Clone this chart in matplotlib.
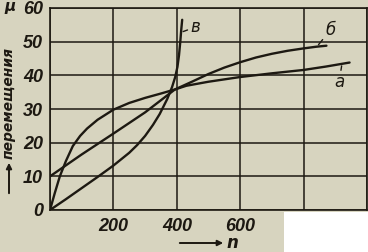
import matplotlib
matplotlib.use("Agg")
import matplotlib.pyplot as plt
from matplotlib import font_manager
from matplotlib.patches import Rectangle, FancyArrowPatch

# ---- data ----
n_a = [0, 100, 200, 300, 394, 430, 500, 600, 700, 800, 870, 945]
y_a = [10, 16.5, 22.7, 29.0, 35.8, 36.9, 38.1, 39.5, 40.6, 41.6, 42.6, 43.8]

n_b = [0, 15, 31, 50, 72, 95, 117, 150, 200, 250, 300, 350, 394, 450, 500, 550,
       600, 650, 700, 750, 800, 840, 872]
y_b = [0, 5, 10, 14.5, 19, 22, 24.2, 26.8, 29.8, 31.8, 33.3, 34.6, 35.8, 38.2,
       40.4, 42.3, 43.9, 45.3, 46.4, 47.3, 48.0, 48.5, 48.8]

n_v = [0, 50, 100, 150, 200, 250, 275, 300, 325, 346, 370, 385, 395, 402, 407, 411, 414, 417]
y_v = [0, 3.2, 6.5, 9.8, 13.2, 17.0, 19.3, 22.0, 25.3, 28.5, 33.0, 36.5, 39.5, 42.5,
       46, 50, 53.5, 56.5]

curve_labels = ["а", "б", "в"]
x_ticks = [200, 400, 600]
y_ticks = [0, 10, 20, 30, 40, 50, 60]
y_ticklabels = ["0", "10", "20", "30", "40", "50", "60"]
y_label = "перемещения"
x_label = "n"
unit_label = "μ"

# ---- style ----
BG = "#d7d4bf"
INK = "#1d1912"

names = {f.name for f in font_manager.fontManager.ttflist}
narrow = "Liberation Sans Narrow" if "Liberation Sans Narrow" in names else "Liberation Sans"

fig = plt.figure(figsize=(3.68, 2.52), dpi=100, facecolor=BG)
ax = fig.add_axes([50 / 368, 42 / 252, 317 / 368, 202 / 252])
ax.set_facecolor(BG)

ax.set_xlim(0, 1000)
ax.set_ylim(0, 60)
ax.set_xticks(list(range(0, 1001, 200)))
ax.set_xticklabels([str(v) if v in x_ticks else "" for v in range(0, 1001, 200)],
                   family="Liberation Sans", fontweight="bold", style="italic",
                   fontsize=13, color=INK)
ax.set_yticks(y_ticks)
ax.set_yticklabels(y_ticklabels, family=narrow, fontweight="bold", style="italic",
                   fontsize=13, color=INK)
ax.tick_params(length=0, pad=5)
ax.tick_params(axis="x", pad=6)
ax.grid(True, color=INK, linewidth=1.1)
for s in ax.spines.values():
    s.set_color(INK)
    s.set_linewidth(1.2)

lw = 1.7
for xs, ys in ((n_a, y_a), (n_b, y_b), (n_v, y_v)):
    ax.plot(xs, ys, color=INK, lw=lw, solid_capstyle="round", solid_joinstyle="round")

lab_kw = dict(family="DejaVu Sans", style="italic", fontsize=12, color=INK,
              ha="center", va="center",
              arrowprops=dict(arrowstyle="-", color=INK, lw=1.0, shrinkA=5, shrinkB=0))
ax.annotate(curve_labels[0], xy=(n_a[-1] - 25, y_a[-1] - 1.0), xytext=(912, 38), **lab_kw)
ax.annotate(curve_labels[1], xy=(n_b[-1] - 25, y_b[-1] + 0.3), xytext=(885, 53.5), **lab_kw)
ax.annotate(curve_labels[2], xy=(n_v[-1] + 3, y_v[-1] - 3.5), xytext=(458, 54.3), **lab_kw)

# axis titles as in the scan
fig.text(10 / 368, 1 - 7 / 252, unit_label, family="DejaVu Sans", style="italic",
         fontweight="bold", fontsize=11, color=INK, ha="center", va="center")
fig.text(9 / 368, 1 - 103 / 252, y_label, rotation=90, family="DejaVu Sans",
         style="italic", fontweight="bold", fontsize=10, color=INK,
         ha="center", va="center")
fig.patches.append(FancyArrowPatch(
    (9 / 368, 1 - 196 / 252), (9 / 368, 1 - 160 / 252), transform=fig.transFigure,
    arrowstyle="-|>", mutation_scale=8, color=INK, lw=1.4))
fig.patches.append(FancyArrowPatch(
    (177 / 368, 1 - 243 / 252), (226 / 368, 1 - 243 / 252), transform=fig.transFigure,
    arrowstyle="-|>", mutation_scale=8, color=INK, lw=1.4))
fig.text(232 / 368, 1 - 243 / 252, x_label, family="DejaVu Sans", style="italic",
         fontweight="bold", fontsize=12, color=INK, ha="center", va="center")

# white cut-out in the lower right corner of the scan
fig.patches.append(Rectangle((284 / 368, 0), 1 - 284 / 368, 1 - 212 / 252,
                             transform=fig.transFigure, facecolor="white",
                             edgecolor="none", zorder=10))

fig.savefig("out.png", dpi=100, facecolor=BG)
